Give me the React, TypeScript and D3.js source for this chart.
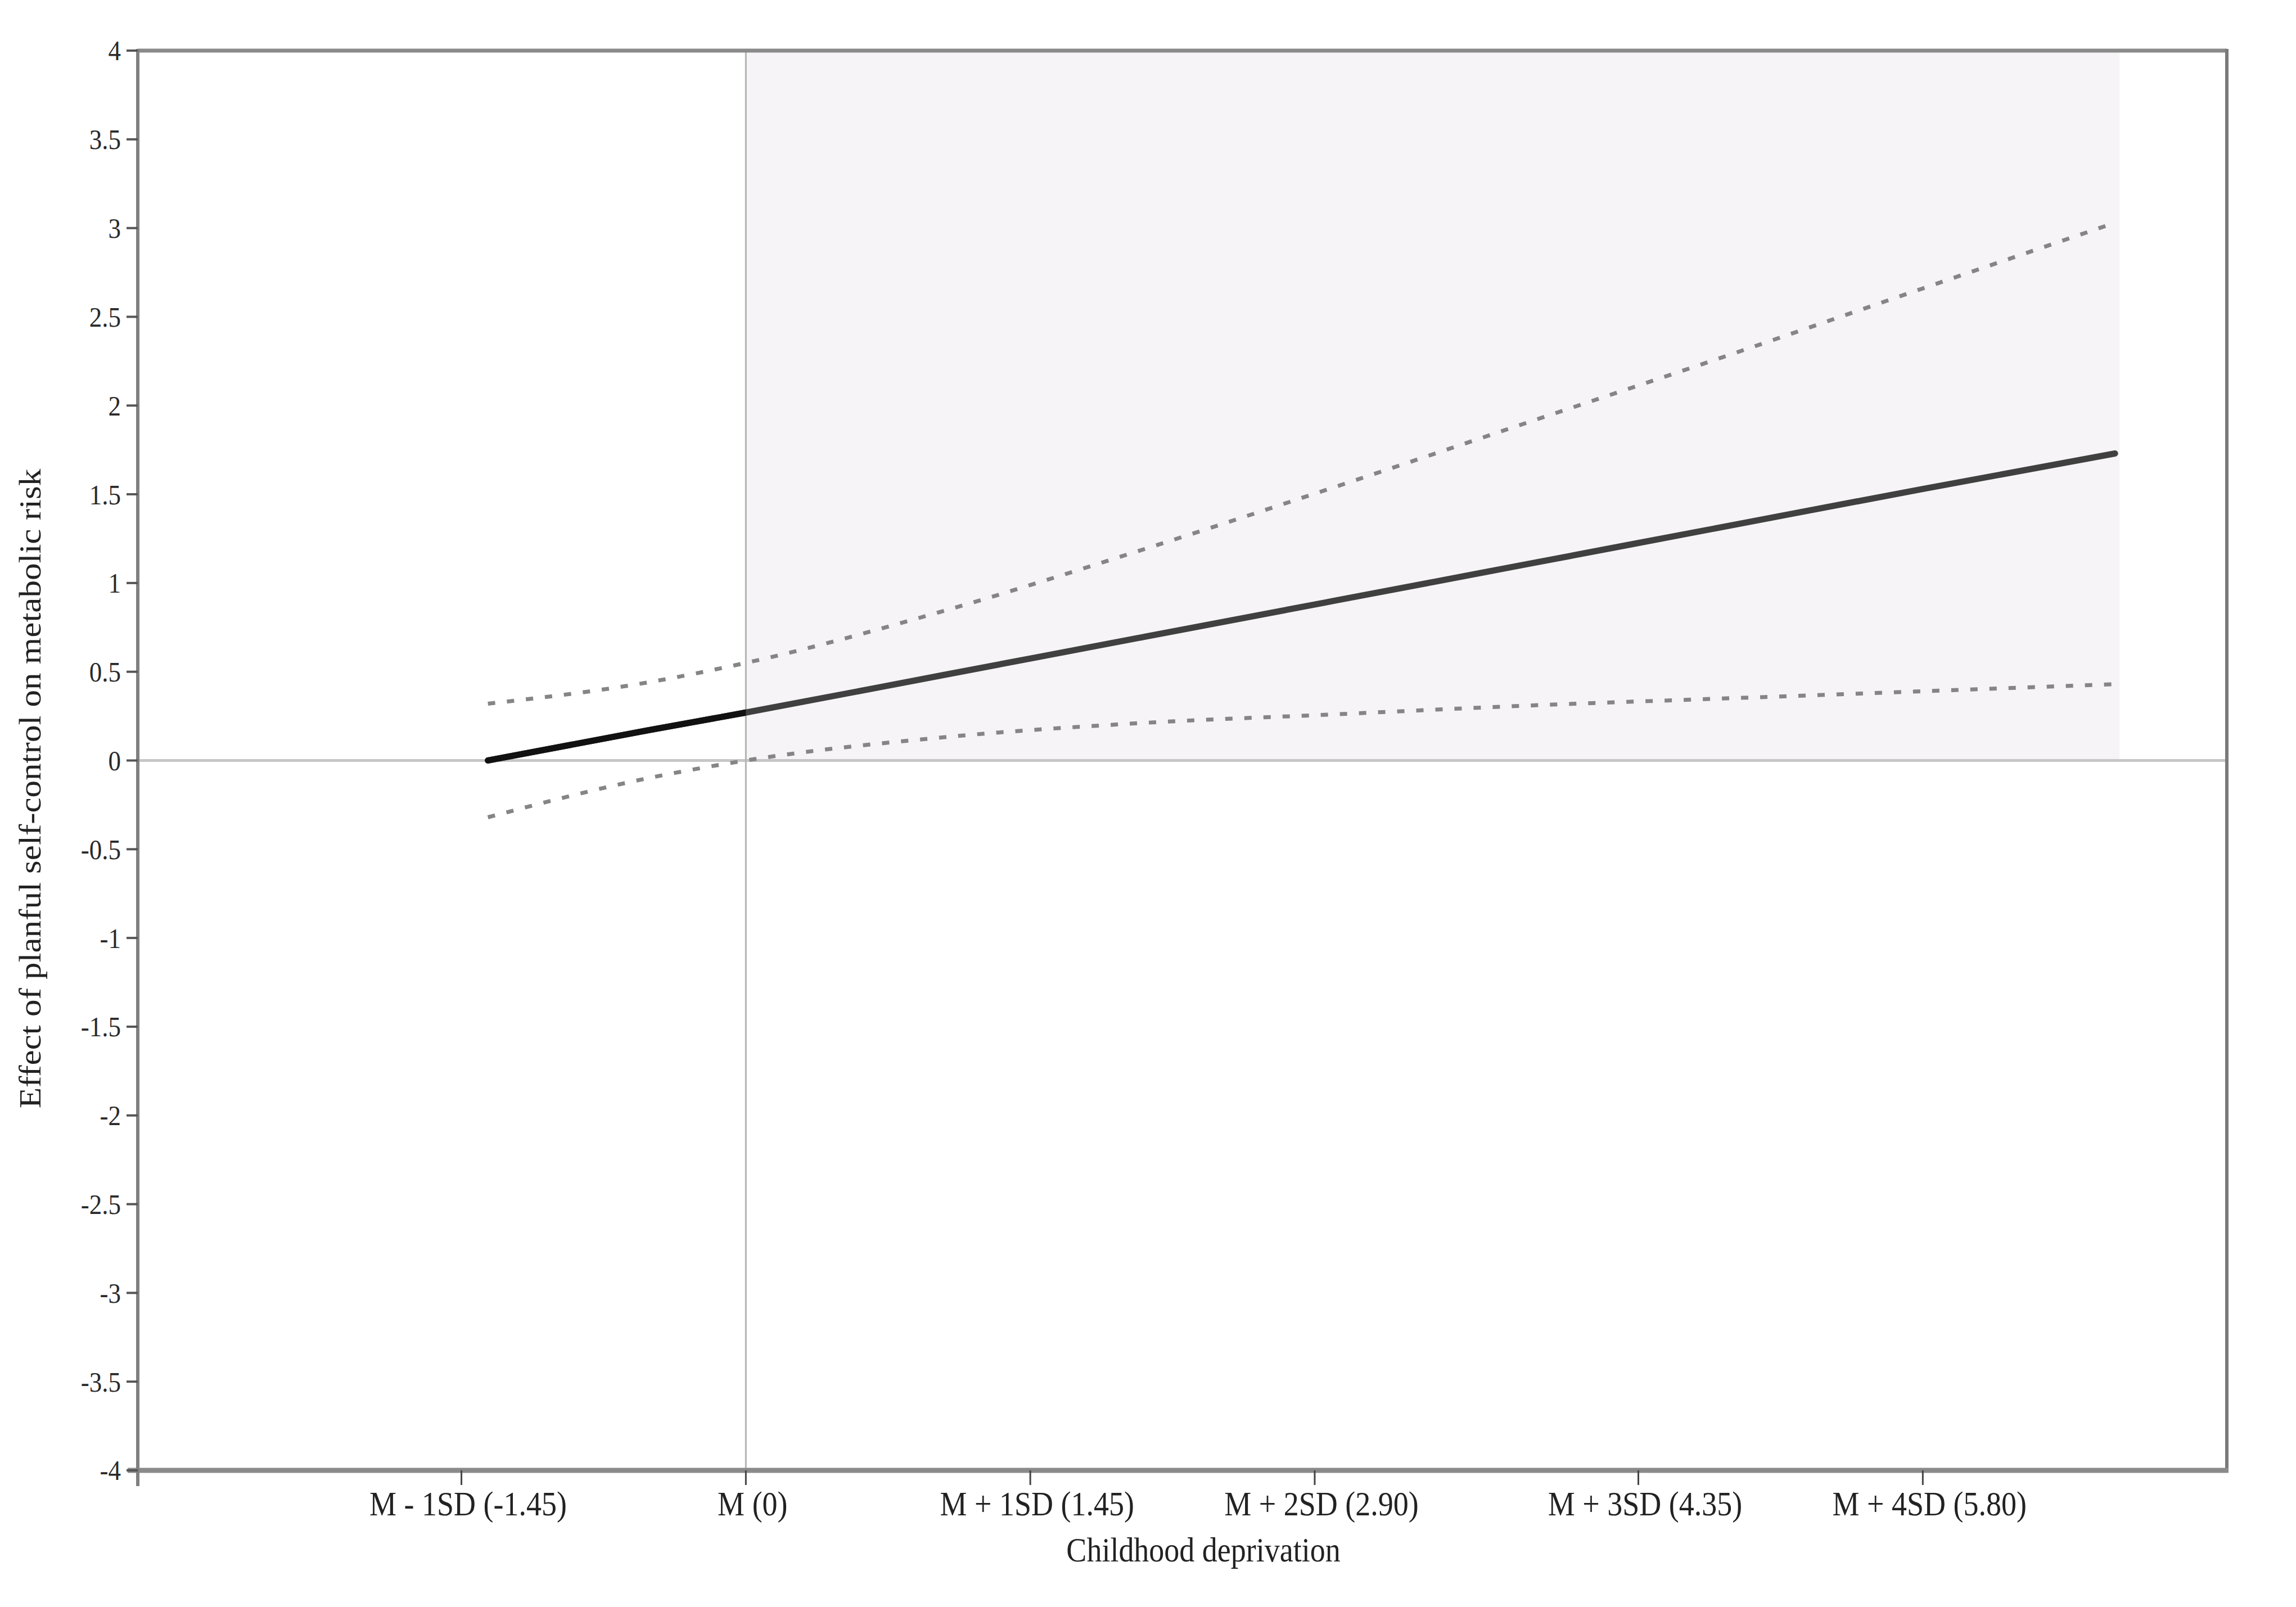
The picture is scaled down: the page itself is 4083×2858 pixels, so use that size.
import React from "react";
import * as d3 from "d3";

// ---- data ----
const xValues = [-1.315, -0.5, 0, 1, 2, 3, 4, 5, 6, 6.98];
const effect = [0.0, 0.17, 0.27, 0.48, 0.69, 0.9, 1.11, 1.32, 1.53, 1.73];
const upperCI = [0.32, 0.44, 0.55, 0.84, 1.18, 1.54, 1.91, 2.28, 2.66, 3.03];
const lowerCI = [-0.32, -0.1, 0.0, 0.13, 0.21, 0.26, 0.31, 0.35, 0.39, 0.43];
const jnPoint = 0; // start of region of significance
const xTickPositions = [-1.45, 0, 1.45, 2.9, 4.55, 6.0];
const xTickLabels = [
  "M - 1SD (-1.45)",
  "M (0)",
  "M + 1SD (1.45)",
  "M + 2SD (2.90)",
  "M + 3SD (4.35)",
  "M + 4SD (5.80)",
];
const yTicks = [4, 3.5, 3, 2.5, 2, 1.5, 1, 0.5, 0, -0.5, -1, -1.5, -2, -2.5, -3, -3.5, -4];
const xDomain = [-3.1, 7.55];
const yDomain = [-4, 4];
const xTitle = "Childhood deprivation";
const yTitle = "Effect of planful self-control on metabolic risk";

const W = 4083;
const H = 2858;
const L = 245;
const R = 3960;
const T = 90;
const B = 2615;
const FONT = "'Liberation Serif', 'Times New Roman', serif";

export default function App() {
  const x = d3.scaleLinear().domain(xDomain).range([L, R]);
  const y = d3.scaleLinear().domain(yDomain).range([B, T]);

  const pts = (vals: number[]) => xValues.map((xv, i) => [xv, vals[i]] as [number, number]);
  const line = d3
    .line<[number, number]>()
    .x((d) => x(d[0]))
    .y((d) => y(d[1]))
    .curve(d3.curveMonotoneX);

  const meanPath = line(pts(effect)) || "";
  const upPath = line(pts(upperCI)) || "";
  const loPath = line(pts(lowerCI)) || "";

  const regionEnd = xValues[xValues.length - 1];
  const x0 = x(jnPoint);

  return (
    <svg
      width={W}
      height={H}
      style={{ position: "absolute", left: 0, top: 0, background: "#fff" }}
      fontFamily={FONT}
    >
      <defs>
        <clipPath id="leftPart">
          <rect x={0} y={0} width={x0} height={H} />
        </clipPath>
      </defs>
      <rect x={0} y={0} width={W} height={H} fill="#fff" />

      {/* region of significance */}
      <rect
        x={x0}
        y={y(yDomain[1])}
        width={x(regionEnd) - x0 + 8}
        height={y(0) - y(yDomain[1])}
        fill="#f6f4f6"
      />

      {/* zero reference line */}
      <line x1={L} x2={R} y1={y(0)} y2={y(0)} stroke="#c6c6c6" strokeWidth={5} />
      {/* vertical line at JN point */}
      <line x1={x0} x2={x0} y1={T} y2={B} stroke="#b4b4b4" strokeWidth={3} />

      {/* confidence bands */}
      <path d={upPath} fill="none" stroke="#858585" strokeWidth={7} strokeDasharray="13 21" />
      <path d={loPath} fill="none" stroke="#858585" strokeWidth={7} strokeDasharray="13 21" />

      {/* effect line */}
      <path d={meanPath} fill="none" stroke="#404040" strokeWidth={11} strokeLinecap="round" />
      <path
        d={meanPath}
        fill="none"
        stroke="#111"
        strokeWidth={11}
        strokeLinecap="round"
        clipPath="url(#leftPart)"
      />

      {/* frame */}
      <line x1={L} x2={R} y1={T} y2={T} stroke="#8a8a8a" strokeWidth={7} />
      <line x1={R} x2={R} y1={T - 3} y2={B + 4} stroke="#7a7a7a" strokeWidth={6} />
      <line x1={L - 18} x2={R + 3} y1={B} y2={B} stroke="#8a8a8a" strokeWidth={9} />
      <line x1={L} x2={L} y1={T - 3} y2={B + 28} stroke="#808080" strokeWidth={6} />

      {/* y ticks */}
      {yTicks.map((v) => (
        <g key={v}>
          <line x1={L - 20} x2={L} y1={y(v)} y2={y(v)} stroke="#555" strokeWidth={4} />
          <text
            transform={`translate(${L - 30},${y(v)}) scale(1,1.13)`}
            textAnchor="end"
            dominantBaseline="central"
            fontSize={45}
            fill="#2a2a2a"
          >
            {String(v)}
          </text>
        </g>
      ))}

      {/* x ticks */}
      {xTickPositions.map((v, i) => (
        <g key={i}>
          <line x1={x(v)} x2={x(v)} y1={B} y2={B + 26} stroke="#444" strokeWidth={3} />
          <text
            transform={`translate(${x(v) + 12},${B + 80}) scale(1,1.13)`}
            textAnchor="middle"
            fontSize={54}
            fill="#222"
          >
            {xTickLabels[i]}
          </text>
        </g>
      ))}

      {/* axis titles */}
      <text
        transform={`translate(${(x(xTickPositions[2]) + x(xTickPositions[3])) / 2 + 55},${B + 162}) scale(1,1.13)`}
        textAnchor="middle"
        fontSize={54}
        fill="#222"
      >
        {xTitle}
      </text>
      <text
        transform={`translate(72,${(T + B) / 2 + 50}) rotate(-90) scale(1.13,1)`}
        textAnchor="middle"
        fontSize={54}
        fill="#222"
      >
        {yTitle}
      </text>
    </svg>
  );
}
